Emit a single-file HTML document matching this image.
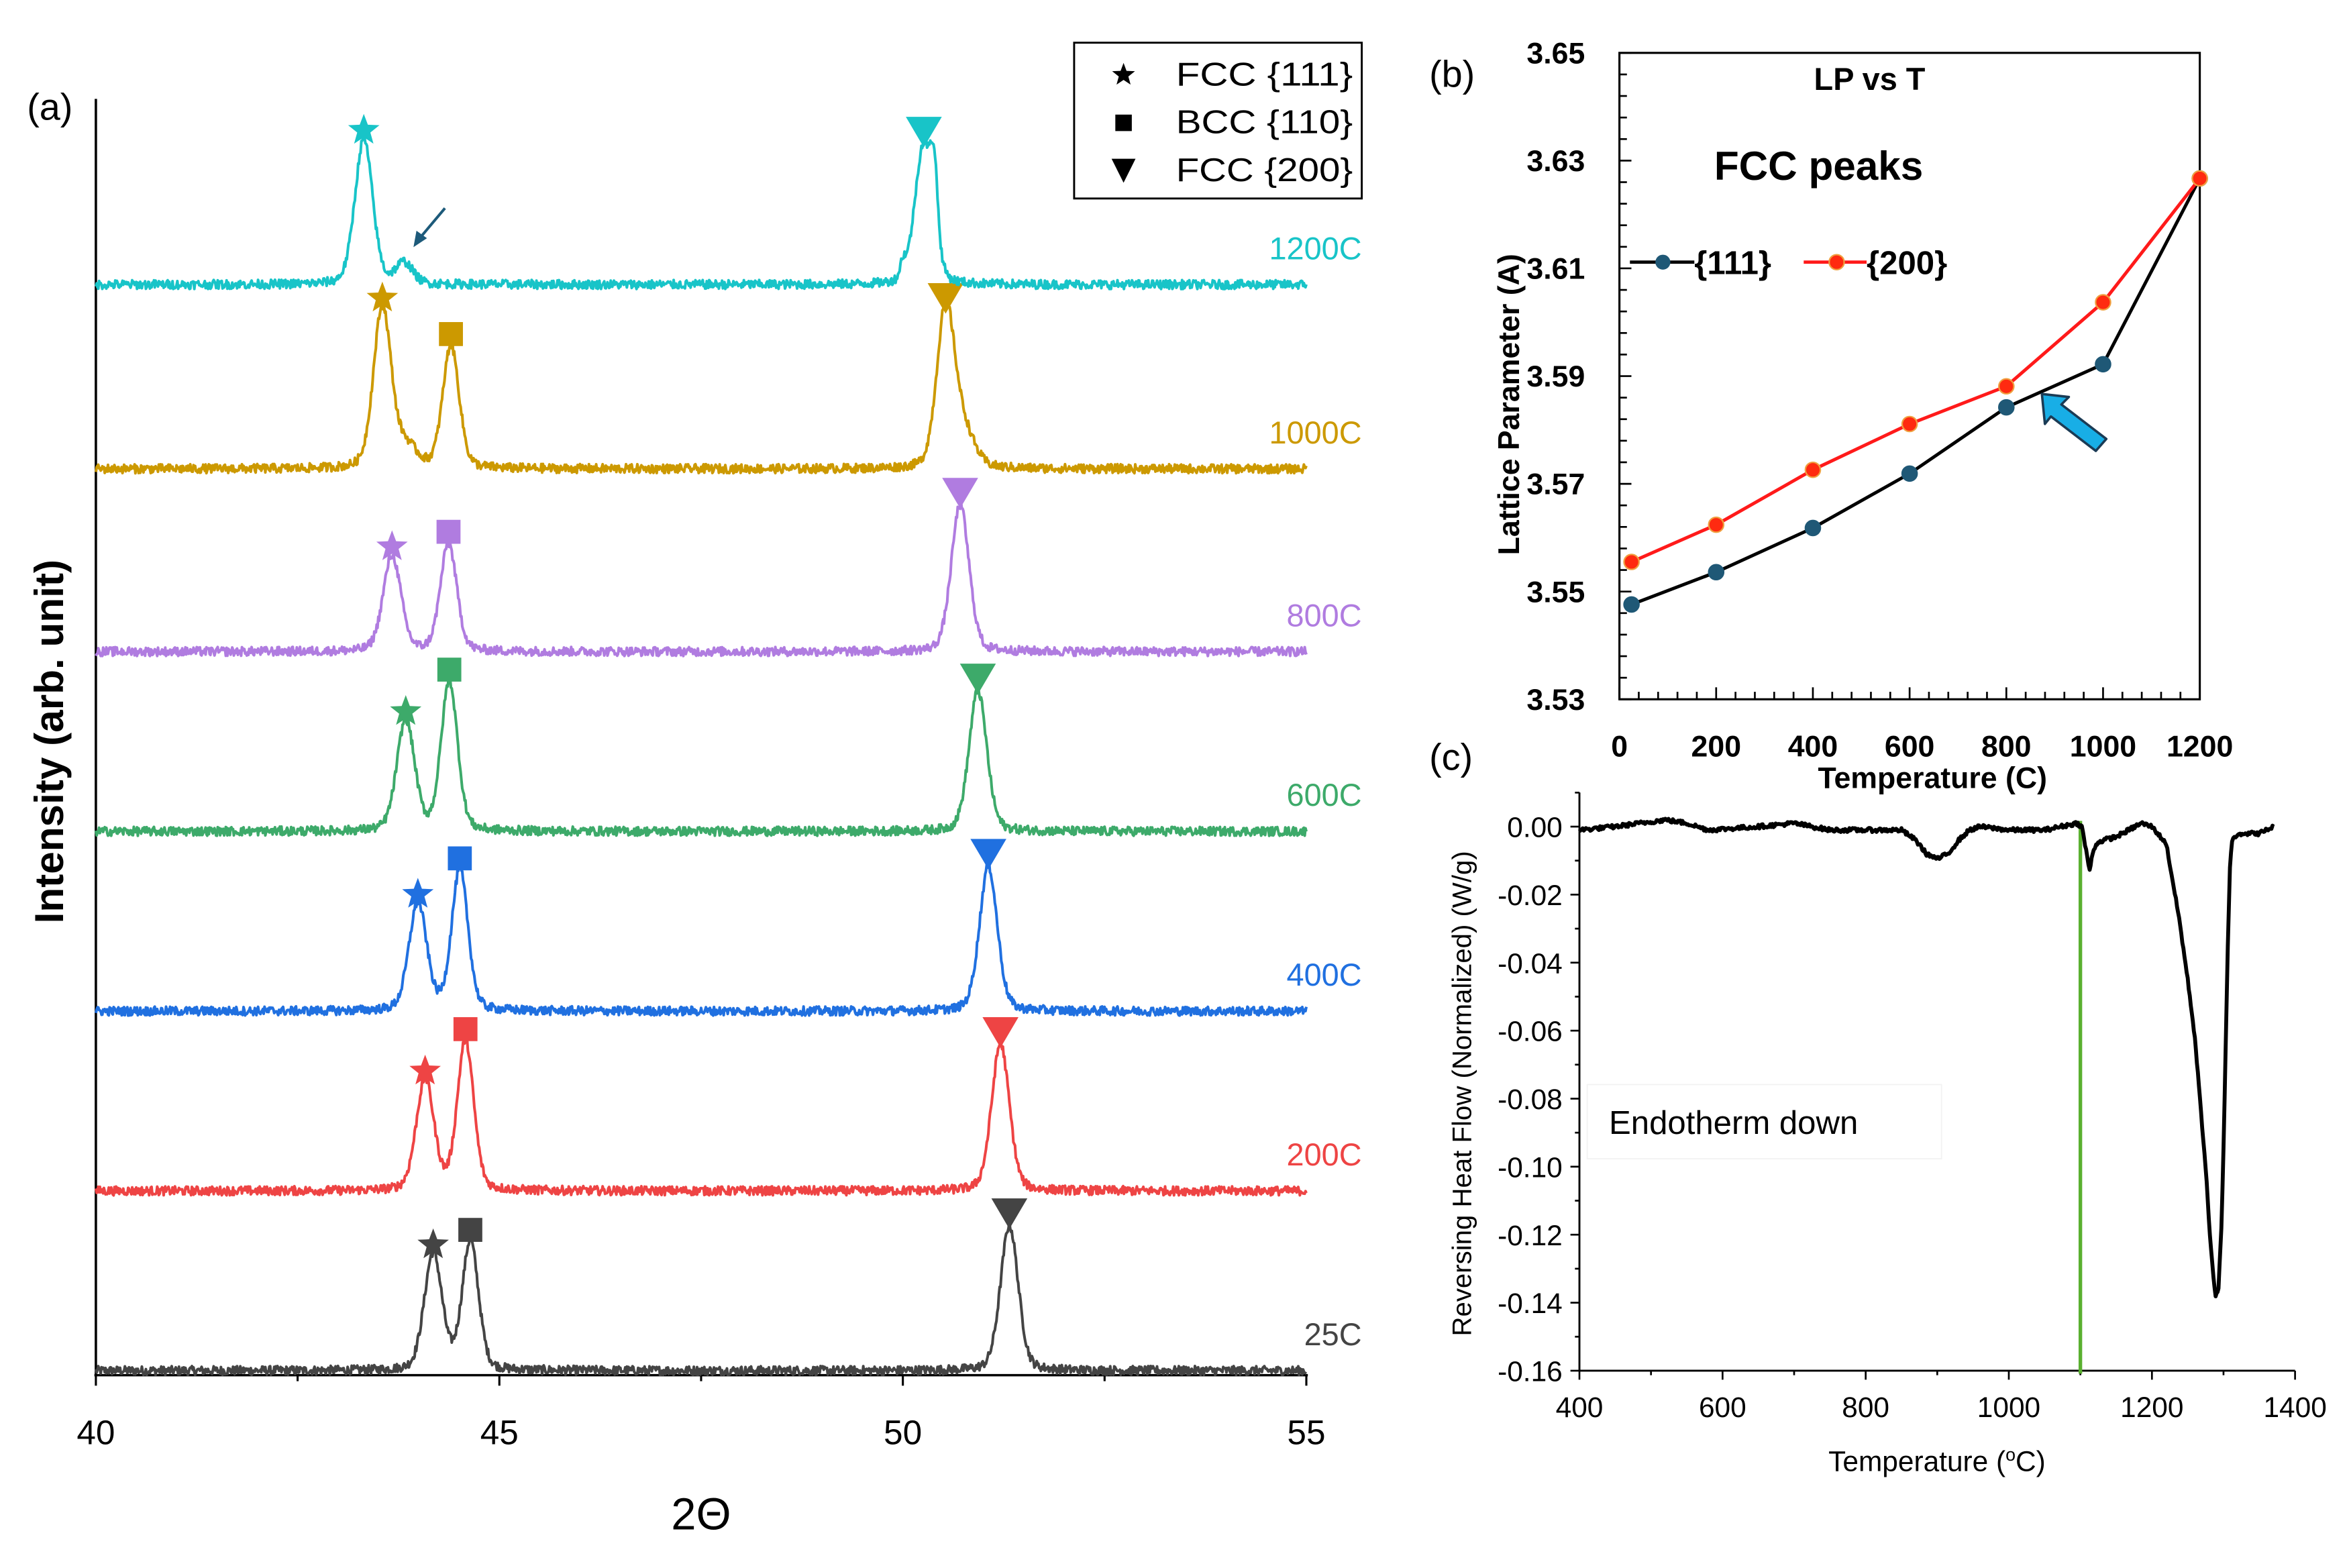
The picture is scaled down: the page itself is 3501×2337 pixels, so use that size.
<!DOCTYPE html>
<html><head><meta charset="utf-8"><style>
html,body{margin:0;padding:0;background:#fff}
svg{display:block}
text{font-family:"Liberation Sans",Arial,sans-serif}
</style></head><body>
<svg id="fig" xmlns="http://www.w3.org/2000/svg" width="3501" height="2337" viewBox="0 0 1568 1046.7" preserveAspectRatio="none">
<rect x="0" y="0" width="1568" height="1046.7" fill="#fff"/>
<g id="pa"></g>
<g id="pb"></g>
<g id="pc"></g>
</svg>
<script>
// ---------- Panel (a) XRD data ----------
const xrdLabels = ["25C","200C","400C","600C","800C","1000C","1200C"];
const xrdOffsets = [0,120,240,360,480,602,725];
const pos111 = [44.18,44.08,43.99,43.84,43.67,43.55,43.32];
const h111 = [78,74,72,74,64,108,97];
const posBCC = [44.64,44.58,44.51,44.38,44.37,44.40,null];
const hBCC = [86,100,94,100,72,82,0];
const pos200 = [51.32,51.21,51.06,50.93,50.71,50.53,50.26];
const h200 = [97,98,97,94,98,106,94];
const xrdColors = ["#444444","#EE4444","#2070E0","#3DAA6A","#B07CE0","#CC9900","#18C4C8"];
const xTicksA = [40,45,50,55];
// ---------- Panel (b) data ----------
const lpTemps = [25,200,400,600,800,1000,1200];
const lp111 = [3.5476,3.5536,3.5618,3.5719,3.5842,3.5922,3.6267];
const lp200 = [3.5555,3.5624,3.5726,3.5811,3.5881,3.6037,3.6267];
const bXTicks = [0,200,400,600,800,1000,1200];
const bYTicks = [3.53,3.55,3.57,3.59,3.61,3.63,3.65];
// ---------- Panel (c) data ----------
const dscT = [400,450,520,550,580,650,700,750,800,850,870,885,900,915,930,945,960,1000,1050,1095,1102,1108,1113,1117,1122,1132,1150,1185,1200,1220,1238,1250,1260,1267,1275,1281,1286,1289,1293,1297,1300,1303,1306,1309,1312,1320,1350,1370];
const dscV = [-0.001,0.000,0.002,0.001,-0.001,0.000,0.001,-0.001,-0.001,-0.001,-0.004,-0.008,-0.0095,-0.008,-0.004,-0.001,0.000,-0.001,-0.001,0.001,0.000,-0.007,-0.013,-0.008,-0.005,-0.004,-0.003,0.001,0.000,-0.005,-0.027,-0.045,-0.062,-0.080,-0.100,-0.120,-0.133,-0.1385,-0.136,-0.118,-0.095,-0.065,-0.035,-0.012,-0.004,-0.002,-0.002,0.000];
const cXTicks = [400,600,800,1000,1200,1400];
const cYTicks = [0,-0.02,-0.04,-0.06,-0.08,-0.10,-0.12,-0.14,-0.16];

const NS="http://www.w3.org/2000/svg";
function mk(parent,tag,attrs,txt){const e=document.createElementNS(NS,tag);for(const k in attrs)e.setAttribute(k,attrs[k]);if(txt!==undefined)e.textContent=txt;parent.appendChild(e);return e;}
let seed=12345;function rnd(){seed=(seed*1103515245+12345)%2147483648;return seed/2147483648;}

// ===== Panel A =====
const pa=document.getElementById('pa');
const xa=t=>64+(t-40)/15*808;
const ya=I=>915-I;
let e;
e=mk(pa,'line',{x1:64,y1:66,x2:64,y2:918,stroke:'#000','stroke-width':1.6});

e=mk(pa,'line',{x1:63,y1:918,x2:873,y2:918,stroke:'#000','stroke-width':1.6});

for(let t=40;t<=55.01;t+=2.5){const maj=Math.abs(t%5)<0.01;mk(pa,'line',{x1:xa(t),y1:918,x2:xa(t),y2:918+(maj?7:4),stroke:'#000','stroke-width':1.4});}
xTicksA.forEach(t=>{e=mk(pa,'text',{x:xa(t),y:964,'font-size':23,'text-anchor':'middle'},String(t));});
e=mk(pa,'text',{x:468,y:1021,'font-size':30,'text-anchor':'middle'},'2Θ');
e=mk(pa,'text',{x:0,y:0,'font-size':27,'font-weight':'bold','text-anchor':'middle',transform:'translate(42,495) rotate(-90)'},'Intensity (arb. unit)');
e=mk(pa,'text',{x:18,y:80,'font-size':25},'(a)');

function prof(d,w){const g=Math.exp(-4*Math.LN2*d*d/(w*w));const l=1/(1+4*d*d/(w*w));return 0.75*g+0.25*l;}
function starPath(cx,cy,r){let s='';for(let i=0;i<10;i++){const a=-Math.PI/2+i*Math.PI/5;const rr=i%2?r*0.42:r;s+=(i?'L':'M')+(cx+rr*Math.cos(a)).toFixed(2)+','+(cy+rr*Math.sin(a)).toFixed(2);}return s+'Z';}
function drawMarker(g,type,cx,cy,color,size){
  if(type==='star'){return mk(g,'path',{d:starPath(cx,cy,size),fill:color});}
  if(type==='square'){return mk(g,'rect',{x:cx-size*0.8,y:cy-size*0.8,width:size*1.6,height:size*1.6,fill:color});}
  return mk(g,'path',{d:`M${cx-size},${cy-size*0.75}L${cx+size},${cy-size*0.75}L${cx},${cy+size*0.95}Z`,fill:color});
}
xrdLabels.forEach((lab,i)=>{
  const g=mk(pa,'g',{});
  
  const peaks=[[pos111[i],h111[i],0.26],[pos200[i],h200[i],0.26]];
  if(posBCC[i]!==null&&hBCC[i]>0)peaks.push([posBCC[i],hBCC[i],0.24]);
  if(lab==='1000C'){peaks.push([pos111[i]+0.3,14,0.3]);peaks.push([pos200[i]+0.22,24,0.32]);}
  if(lab==='1200C'){peaks.push([pos111[i]+0.5,14,0.25]);peaks.push([pos200[i]+0.13,45,0.1]);peaks.push([50.0,10,0.08]);}
  let d='';
  for(let k=0;k<=1500;k++){const t=40+k*0.01;let I=xrdOffsets[i];peaks.forEach(p=>{I+=p[1]*prof(t-p[0],p[2]);});I+=(rnd()-0.5)*6;d+=(k?'L':'M')+xa(t).toFixed(2)+','+ya(I).toFixed(2);}
  mk(g,'path',{d:d,fill:'none',stroke:xrdColors[i],'stroke-width':1.8,'stroke-linejoin':'round'});
  const top=(p,h)=>ya(xrdOffsets[i]+h);
  e=drawMarker(g,'star',xa(pos111[i]),top(pos111[i],h111[i])-6,xrdColors[i],11);
  if(posBCC[i]!==null){e=drawMarker(g,'square',xa(posBCC[i]),top(posBCC[i],hBCC[i])-8,xrdColors[i],10);}
  e=drawMarker(g,'tri',xa(pos200[i]),top(pos200[i],h200[i])-9,xrdColors[i],12);
  e=mk(g,'text',{x:909,y:ya(xrdOffsets[i])-17,'font-size':21,'text-anchor':'end',fill:xrdColors[i]},lab);
  
});
// small arrow
e=mk(pa,'g',{});
mk(e,'line',{x1:297,y1:139,x2:281,y2:158,stroke:'#1d5a7a','stroke-width':1.8});
mk(e,'path',{d:'M276,165 L278,154 L285,159 Z',fill:'#1d5a7a'});
// legend
const lg=mk(pa,'g',{});
mk(lg,'rect',{x:717,y:28.5,width:192,height:104,fill:'#fff',stroke:'#000','stroke-width':1.3});
mk(lg,'path',{d:starPath(750,50,8),fill:'#000'});
mk(lg,'rect',{x:744.5,y:76.5,width:11,height:11,fill:'#000'});
mk(lg,'path',{d:'M742,106 L758,106 L750,122 Z',fill:'#000'});
[['FCC {111}',58],['BCC {110}',90],['FCC {200}',122]].forEach(a=>{e=mk(lg,'text',{x:785,y:a[1]-1,'font-size':22,textLength:118,lengthAdjust:'spacingAndGlyphs'},a[0]);});

// ===== Panel B =====
const pb=document.getElementById('pb');
const xb=T=>1081+T/1200*387.4;
const yb=v=>466.8-(v-3.53)/0.12*431.5;
e=mk(pb,'rect',{x:1081,y:35.3,width:387.4,height:431.5,fill:'none',stroke:'#000','stroke-width':1.4});
for(let T=0;T<=1200;T+=40){const maj=T%200===0;mk(pb,'line',{x1:xb(T),y1:466.8,x2:xb(T),y2:466.8-(maj?8:5),stroke:'#000','stroke-width':1.2});}
for(let k=0;k<=30;k++){const v=3.53+k*0.004;const maj=k%5===0;mk(pb,'line',{x1:1081,y1:yb(v),x2:1081+(maj?8:5),y2:yb(v),stroke:'#000','stroke-width':1.2});}
bXTicks.forEach(T=>{e=mk(pb,'text',{x:xb(T),y:505,'font-size':20,'font-weight':'bold','text-anchor':'middle'},String(T));});
bYTicks.forEach(v=>{e=mk(pb,'text',{x:1058,y:yb(v)+7,'font-size':20,'font-weight':'bold','text-anchor':'end'},v.toFixed(2));});
e=mk(pb,'text',{x:1290,y:526,'font-size':20,'font-weight':'bold','text-anchor':'middle'},'Temperature (C)');
e=mk(pb,'text',{x:0,y:0,'font-size':20,'font-weight':'bold','text-anchor':'middle',transform:'translate(1014,270) rotate(-90)'},'Lattice Parameter (A)');
e=mk(pb,'text',{x:1248,y:60,'font-size':21,'font-weight':'bold','text-anchor':'middle'},'LP vs  T');
e=mk(pb,'text',{x:1214,y:120,'font-size':27,'font-weight':'bold','text-anchor':'middle'},'FCC peaks');
e=mk(pb,'text',{x:954,y:58,'font-size':25},'(b)');
function series(vals,lc,mf,ms,name){
  const g=mk(pb,'g',{});
  mk(g,'path',{d:lpTemps.map((T,i)=>(i?'L':'M')+xb(T)+','+yb(vals[i])).join(''),fill:'none',stroke:lc,'stroke-width':2.2});
  lpTemps.forEach((T,i)=>{const c=mk(g,'circle',{cx:xb(T),cy:yb(vals[i]),r:5,fill:mf,stroke:ms,'stroke-width':1});});
}
series(lp111,'#000','#1f5876','#1f5876','series-111');
series(lp200,'#ff1a1a','#ff2a10','#f0a040','series-200');
e=mk(pb,'g',{});
mk(e,'line',{x1:1088,y1:175,x2:1131,y2:175,stroke:'#000','stroke-width':2.2});
mk(e,'circle',{cx:1110,cy:175,r:5,fill:'#1f5876'});
mk(e,'text',{x:1131,y:183,'font-size':22,'font-weight':'bold'},'{111}');
mk(e,'line',{x1:1204,y1:175,x2:1246,y2:175,stroke:'#ff1a1a','stroke-width':2.2});
mk(e,'circle',{cx:1226,cy:175,r:5,fill:'#ff2a10',stroke:'#f0a040'});
mk(e,'text',{x:1246,y:183,'font-size':22,'font-weight':'bold'},'{200}');
e=mk(pb,'path',{d:'M1363,263 L1381,265 L1376,270 L1406,293 L1399,301 L1369,278 L1365,283 Z',fill:'#18aee6',stroke:'#1b3b55','stroke-width':1.6,'stroke-linejoin':'round'});


// ===== Panel C =====
const pc=document.getElementById('pc');
const xc=T=>1054.3+(T-400)/1000*477.7;
const yc=v=>551.8-(v/0.16)*363.2;
e=mk(pc,'line',{x1:1054.3,y1:529,x2:1054.3,y2:915,stroke:'#000','stroke-width':1.3});
e=mk(pc,'line',{x1:1054.3,y1:915,x2:1532,y2:915,stroke:'#000','stroke-width':1.3});
for(let T=400;T<=1400;T+=100){const maj=T%200===0;mk(pc,'line',{x1:xc(T),y1:915,x2:xc(T),y2:915+(maj?6:3),stroke:'#000','stroke-width':1.2});}
for(let k=-1;k<=16;k++){const v=-k*0.01;const maj=k%2===0;mk(pc,'line',{x1:1054.3,y1:yc(v),x2:1054.3-(maj?6:3),y2:yc(v),stroke:'#000','stroke-width':1.2});}
cXTicks.forEach(T=>{e=mk(pc,'text',{x:xc(T),y:946,'font-size':19,'text-anchor':'middle'},String(T));});
cYTicks.forEach(v=>{e=mk(pc,'text',{x:1043,y:yc(v)+7,'font-size':19,'text-anchor':'end'},(v===0?'0.00':v.toFixed(2)));});
e=mk(pc,'text',{x:1293,y:982,'font-size':19,'text-anchor':'middle'});
mk(e,'tspan',{},'Temperature (');mk(e,'tspan',{'font-size':12,dy:-7},'o');mk(e,'tspan',{dy:7},'C)');
e=mk(pc,'text',{x:0,y:0,'font-size':18,'text-anchor':'middle',transform:'translate(982,730) rotate(-90)'},'Reversing Heat Flow (Normalized) (W/g)');
e=mk(pc,'text',{x:954,y:514,'font-size':25},'(c)');
e=mk(pc,'rect',{x:1059.5,y:724,width:236.5,height:49.5,fill:'#fff',stroke:'#f2f2f2','stroke-width':0.8});
e=mk(pc,'text',{x:1074,y:757,'font-size':22},'Endotherm down');
e=mk(pc,'line',{x1:xc(1100),y1:548,x2:xc(1100),y2:917,stroke:'#5ab030','stroke-width':2.4});
let dd='';let first=true;
for(let i=0;i<dscT.length-1;i++){const n=Math.max(2,Math.round((dscT[i+1]-dscT[i])/1.5));for(let j=0;j<n;j++){const T=dscT[i]+(dscT[i+1]-dscT[i])*j/n;const v=dscV[i]+(dscV[i+1]-dscV[i])*j/n+(rnd()-0.5)*0.0012;dd+=(first?'M':'L')+xc(T).toFixed(2)+','+yc(v).toFixed(2);first=false;}}
dd+='L'+xc(dscT[dscT.length-1])+','+yc(dscV[dscV.length-1]);
e=mk(pc,'path',{d:dd,fill:'none',stroke:'#000','stroke-width':2.6,'stroke-linejoin':'round'});
</script>
</body></html>
